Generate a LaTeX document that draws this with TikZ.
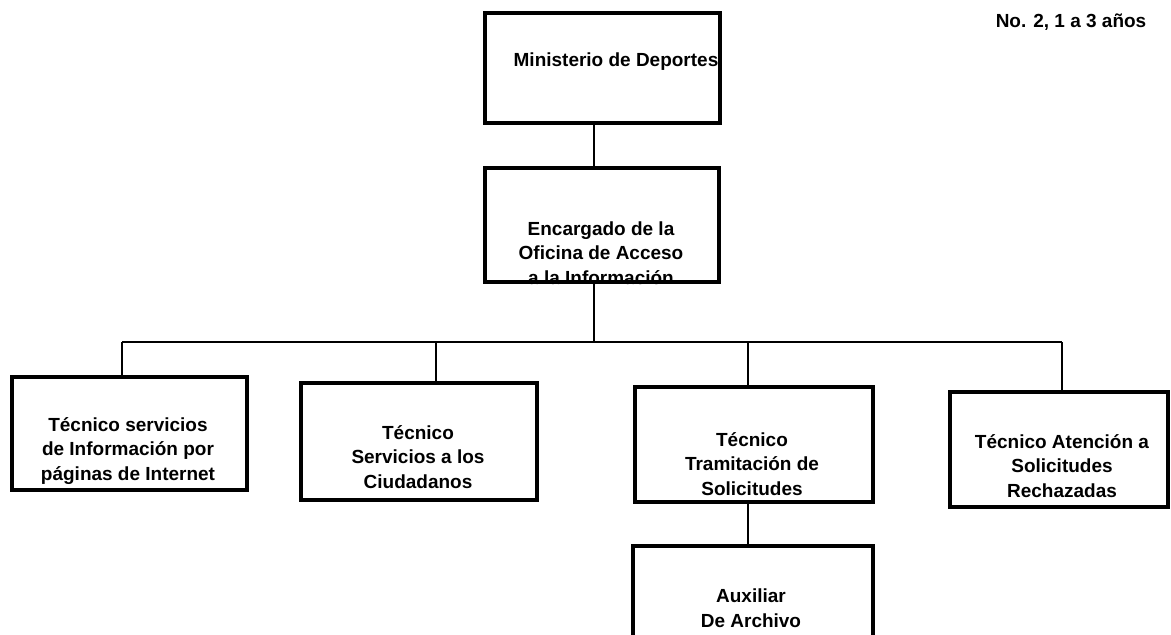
\documentclass[tikz,border=0pt]{standalone}
\usepackage{fontspec}
\setmainfont{Liberation Sans}
\usetikzlibrary{calc}
\newcommand{\pxu}{0.025cm}

\begin{document}
\begin{tikzpicture}[x=0.025cm, y=-0.025cm,
    orgbox/.style={draw, line width=2.2pt, inner sep=0pt},
    orgtext/.style={align=center, inner sep=0pt, font=\fontsize{13.5}{17.5}\selectfont\bfseries},
    link/.style={line width=1.6pt}]
  % page
  \useasboundingbox (0,0) rectangle (1171,634);
  \clip (0,0) rectangle (1171,634);
  % boxes
  \node[orgbox, minimum width=235*\pxu, minimum height=110*\pxu] (ministerio) at (602.5,68) {};
  \node[orgbox, minimum width=234*\pxu, minimum height=114*\pxu] (encargado) at (602,225) {};
  \node[orgbox, minimum width=235*\pxu, minimum height=113*\pxu] (tecinternet) at (129.5,433.5) {};
  \node[orgbox, minimum width=236*\pxu, minimum height=117*\pxu] (ciudadanos) at (419,441.5) {};
  \node[orgbox, minimum width=238*\pxu, minimum height=115*\pxu] (tramitacion) at (754,444.5) {};
  \node[orgbox, minimum width=218*\pxu, minimum height=115*\pxu] (rechazadas) at (1059,449.5) {};
  \node[orgbox, minimum width=240*\pxu, minimum height=104*\pxu] (auxiliar) at (753,598) {};
  % texts
  \node[orgtext] (ministerio-txt) at (616,62) {Ministerio de Deportes};
  \node[orgtext] (encargado-txt) at (601,253) {Encargado de la\\Oficina de Acceso\\a la Información};
  \node[orgtext] (tecinternet-txt) at (128,451) {Técnico servicios\\de Información por\\páginas de Internet};
  \node[orgtext] (ciudadanos-txt) at (418,457) {Técnico\\Servicios a los\\Ciudadanos};
  \node[orgtext] (tramitacion-txt) at (752,464) {Técnico\\Tramitación de\\Solicitudes};
  \node[orgtext] (rechazadas-txt) at (1062,466) {Técnico Atención a\\Solicitudes\\Rechazadas};
  \node[orgtext] (auxiliar-txt) at (751,608) {Auxiliar\\De Archivo};
  \node[orgtext] (edad) at (1071,22) {No. 2, 1 a 3 años};
  % links
  \coordinate (spine) at (594,342);
  \draw[link] (ministerio.south -| spine) -- (encargado.north -| spine);
  \draw[link] (encargado.south -| spine) -- (spine);
  \draw[link] (122,342) -- (1062,342);
  \foreach \b/\x in {tecinternet/122, ciudadanos/436, tramitacion/748, rechazadas/1062}
    \draw[link] (\x,342) coordinate (d) -- (d |- \b.north);
  \draw[link] (tramitacion.south) ++(-6,0) coordinate (t) -- (t |- auxiliar.north);
\end{tikzpicture}
\end{document}
